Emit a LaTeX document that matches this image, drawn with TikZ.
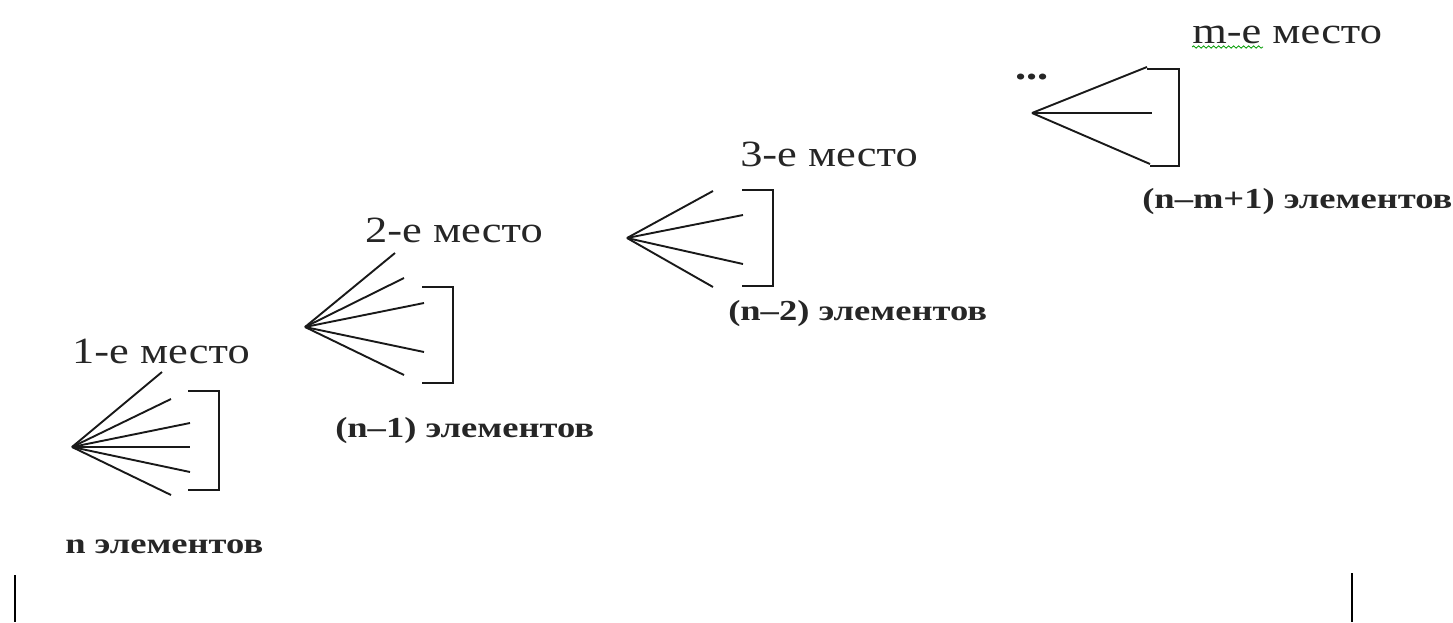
\documentclass[tikz,border=0pt]{standalone}
\usepackage{fontspec}
\setmainfont{Liberation Serif}
\usetikzlibrary{decorations.pathmorphing}
\begin{document}
\begin{tikzpicture}[x=1pt,y=-1pt,
  ray/.style={line width=1.9pt, color=black!90},
  brace/.style={line width=2.3pt, line join=miter, color=black!90},
  place/.style={font=\fontsize{37}{40}\selectfont, inner sep=0pt, anchor=base west, xscale=1.2, text=black!85},
  count/.style={font=\bfseries\fontsize{29}{32}\selectfont, inner sep=0pt, anchor=base west, xscale=1.26, text=black!85},
  bar/.style={line width=2.5pt}]
\useasboundingbox (0,0) rectangle (1453,622);

% first place: n choices
\coordinate (a1) at (72,447);
\foreach \n/\ex/\ey in {1/162/372, 2/171/399, 3/190/423, 4/190/447, 5/190/472, 6/171/495}
  {\coordinate (e1-\n) at (\ex,\ey); \draw[ray] (a1) -- (e1-\n);}
\draw[brace] (188,391) -- (219,391) -- (219,490) -- (188,490);
\node[place] (p1) at (72,363) {1-е место};
\node[count] (c1) at (65,553) {n элементов};

% second place: n-1 choices
\coordinate (a2) at (305,327);
\foreach \n/\ex/\ey in {1/395/253, 2/404/278, 3/424/303, 4/424/352, 5/404/375}
  {\coordinate (e2-\n) at (\ex,\ey); \draw[ray] (a2) -- (e2-\n);}
\draw[brace] (422,287) -- (453,287) -- (453,383) -- (422,383);
\node[place] (p2) at (365,242) {2-е место};
\node[count] (c2) at (335,437) {(n--1) элементов};

% third place: n-2 choices
\coordinate (a3) at (627,238);
\foreach \n/\ex/\ey in {1/713/191, 2/743/215, 3/743/264, 4/713/287}
  {\coordinate (e3-\n) at (\ex,\ey); \draw[ray] (a3) -- (e3-\n);}
\draw[brace] (742,190) -- (773,190) -- (773,286) -- (742,286);
\node[place] (p3) at (740,166) {3-е место};
\node[count] (c3) at (728,320) {(n--2) элементов};

% m-th place: n-m+1 choices
\node[place, font=\bfseries\fontsize{37}{40}\selectfont] (dots) at (1015,79) {...};
\coordinate (am) at (1032,113);
\foreach \n/\ex/\ey in {1/1147/67, 2/1152/113, 3/1150/164}
  {\coordinate (em-\n) at (\ex,\ey); \draw[ray] (am) -- (em-\n);}
\draw[brace] (1147,69) -- (1179,69) -- (1179,166) -- (1150,166);
\node[place] (pm) at (1192,43) {m-е место};
\draw[green!60!black, line width=0.8pt, decorate,
  decoration={snake, amplitude=1.2pt, segment length=5pt}] (1192,47) -- (1263,47);
\node[count] (cm) at (1142,208) {(n--m+1) элементов};

% end marks of the whole row
\coordinate (l0) at (15,575); \coordinate (l1) at (15,622);
\coordinate (r0) at (1352,573); \coordinate (r1) at (1352,622);
\draw[bar] (l0) -- (l1);
\draw[bar] (r0) -- (r1);
\end{tikzpicture}
\end{document}
